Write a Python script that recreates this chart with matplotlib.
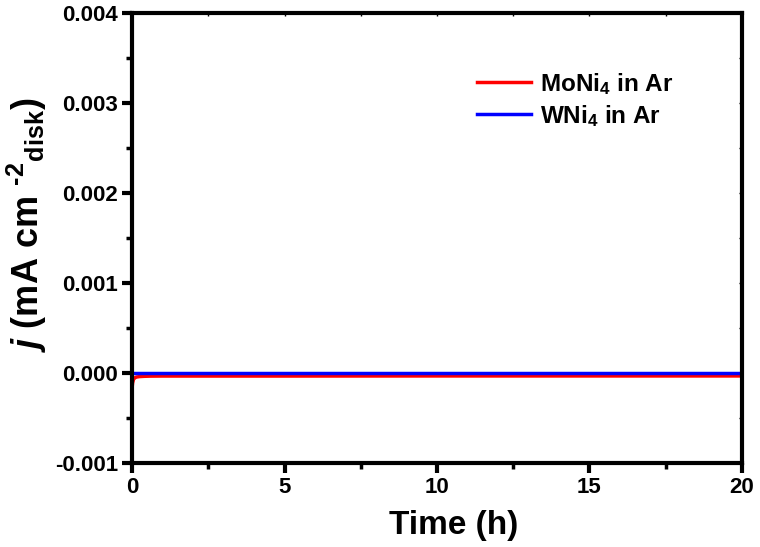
import numpy as np
import matplotlib.pyplot as plt
from matplotlib.ticker import MultipleLocator

plt.rcParams['font.family'] = ['Liberation Sans', 'DejaVu Sans']
plt.rcParams['font.weight'] = 'bold'
plt.rcParams['mathtext.fontset'] = 'custom'
plt.rcParams['mathtext.rm'] = 'Liberation Sans:bold'
plt.rcParams['mathtext.it'] = 'Liberation Sans:bold:italic'
plt.rcParams['mathtext.bf'] = 'Liberation Sans:bold'

# chronoamperometry in Ar (current density vs time)
t_moni4 = [0.0, 0.02, 0.05, 0.1, 0.15, 0.25, 0.4, 0.6, 1.0, 2.0, 5.0, 10.0, 15.0, 20.0]
j_moni4 = [-0.00017, -0.00011, -0.00007, -0.000052, -0.000045, -0.000040, -0.000037,
           -0.000035, -0.000034, -0.000034, -0.000034, -0.000033, -0.000033, -0.000033]
t_wni4 = [0.0, 5.0, 10.0, 15.0, 20.0]
j_wni4 = [0.000002, 0.000002, 0.000002, 0.000002, 0.000002]

fig = plt.figure(figsize=(7.6, 5.47), dpi=100)
ax = fig.add_axes([0.1737, 0.1536, 0.8026, 0.8227])

ax.plot(t_moni4, j_moni4, color='#ff0000', lw=2.5, label='MoNi$_4$ in Ar')
ax.plot(t_wni4, j_wni4, color='#0000ff', lw=2.5, label='WNi$_4$ in Ar')

ax.set_xlim(0, 20)
ax.set_ylim(-0.001, 0.004)
ax.xaxis.set_major_locator(MultipleLocator(5))
ax.xaxis.set_minor_locator(MultipleLocator(2.5))
ax.yaxis.set_major_locator(MultipleLocator(0.001))
ax.yaxis.set_minor_locator(MultipleLocator(0.0005))
ax.yaxis.set_major_formatter(plt.FuncFormatter(lambda v, p: f'{v:.3f}'))

for s in ax.spines.values():
    s.set_linewidth(3)
ax.tick_params(which='major', direction='out', length=7, width=3, labelsize=16, pad=3)
ax.tick_params(which='minor', direction='out', length=4.5, width=2.5)
# small inward marks on the top and right frame
sec_x = ax.secondary_xaxis('top')
sec_x.xaxis.set_major_locator(MultipleLocator(5))
sec_x.xaxis.set_minor_locator(MultipleLocator(2.5))
sec_x.tick_params(which='both', direction='in', length=2, width=1, labeltop=False)
sec_x.spines['top'].set_visible(False)
sec_y = ax.secondary_yaxis('right')
sec_y.yaxis.set_major_locator(MultipleLocator(0.001))
sec_y.yaxis.set_minor_locator(MultipleLocator(0.0005))
sec_y.tick_params(which='both', direction='in', length=2, width=1, labelright=False)
sec_y.spines['right'].set_visible(False)

ax.set_xlabel('Time (h)', fontsize=24, fontweight='bold')
ax.xaxis.set_label_coords(0.528, -0.105)
ax.set_ylabel('$j$ (mA cm $^{\u20102}$$_{\\rm disk}$)', fontsize=26, fontweight='bold')
ax.yaxis.set_label_coords(-0.136, 0.53)

leg = ax.legend(loc='upper left', bbox_to_anchor=(0.53, 0.92), frameon=False,
                fontsize=17.5, handlelength=2.2, handletextpad=0.4, labelspacing=0.25)

fig.savefig('out.png', dpi=100)
